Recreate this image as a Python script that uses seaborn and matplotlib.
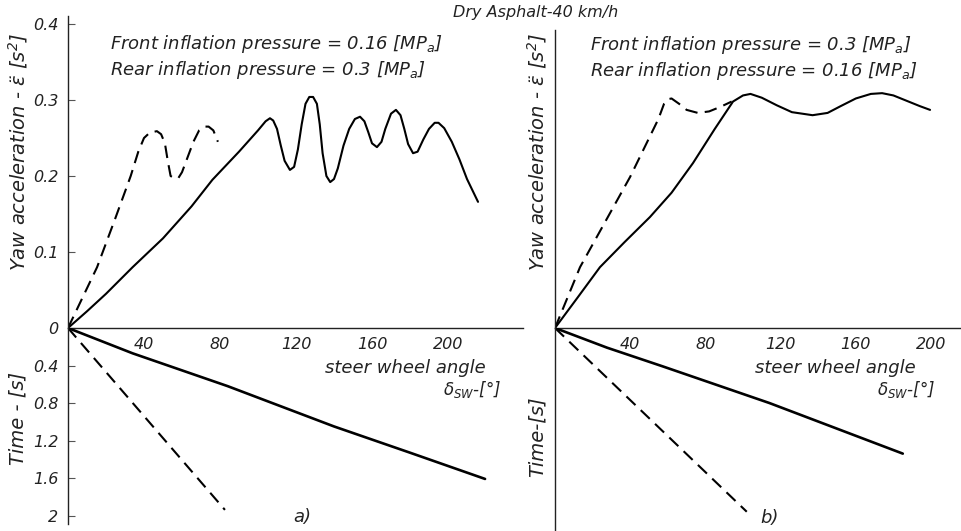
import matplotlib
matplotlib.use("Agg")
import matplotlib.pyplot as plt
import seaborn as sns
import numpy as np

sns.set_theme(style="white")
plt.rcParams['font.family'] = ['DejaVu Sans']
plt.rcParams['font.style'] = 'italic'
plt.rcParams['mathtext.fontset'] = 'dejavusans'

# ---------------- data ----------------
# panel a) yaw acceleration vs steer wheel angle
a_solid_x = [0, 10, 20, 34, 50, 65, 76, 90, 100, 104, 106.3, 108, 110, 112, 114, 116.8, 119, 121, 123, 125,
             127, 129, 131, 132.5, 134, 136, 138, 140, 142, 145, 148, 151, 153.7, 156, 158, 160, 162.6, 165,
             167, 170, 172.6, 175, 177, 179, 181.6, 184, 187, 190, 193, 195, 198, 202, 206, 210, 215.8]
a_solid_y = [0, 0.022, 0.045, 0.080, 0.118, 0.160, 0.195, 0.232, 0.260, 0.272, 0.276, 0.273, 0.262, 0.240,
             0.220, 0.208, 0.212, 0.235, 0.268, 0.295, 0.304, 0.304, 0.295, 0.268, 0.230, 0.200, 0.192, 0.196,
             0.210, 0.240, 0.262, 0.275, 0.278, 0.272, 0.258, 0.243, 0.238, 0.245, 0.262, 0.282, 0.287, 0.280,
             0.262, 0.242, 0.230, 0.232, 0.248, 0.262, 0.270, 0.270, 0.263, 0.245, 0.222, 0.196, 0.166]
a_dash_x = [0, 15.3, 25, 33, 37, 40, 43, 46.8, 49, 51, 52.5, 54, 56, 58, 60, 63, 66, 69, 72, 74, 76.5, 78.9]
a_dash_y = [0, 0.080, 0.145, 0.200, 0.232, 0.250, 0.257, 0.259, 0.255, 0.243, 0.220, 0.200, 0.197, 0.197,
            0.205, 0.225, 0.245, 0.260, 0.265, 0.265, 0.260, 0.245]
# panel a) time vs steer wheel angle
a_tsolid_x = [0, 34, 84, 140, 180, 219.5]
a_tsolid_t = [0, 0.27, 0.62, 1.05, 1.33, 1.61]
a_tdash_x = [0, 82.6]
a_tdash_t = [0, 1.94]

# panel b)
b_solid_x = [0, 12, 23.9, 37, 50.5, 62, 73.4, 85, 94.7, 100, 104, 110, 118, 126, 137, 145, 152, 160, 168,
             174, 180, 188, 194, 199.5]
b_solid_y = [0, 0.040, 0.080, 0.113, 0.146, 0.178, 0.217, 0.262, 0.298, 0.306, 0.308, 0.303, 0.293, 0.284,
             0.280, 0.283, 0.292, 0.302, 0.308, 0.309, 0.306, 0.298, 0.292, 0.287]
b_dash_x = [0, 13.3, 40, 55, 58, 60, 62, 66, 70, 76, 82, 88, 94]
b_dash_y = [0, 0.080, 0.199, 0.275, 0.295, 0.301, 0.302, 0.295, 0.287, 0.283, 0.285, 0.291, 0.298]
b_tsolid_x = [0, 27.7, 57.4, 114, 185]
b_tsolid_t = [0, 0.21, 0.41, 0.80, 1.34]
b_tdash_x = [0, 102]
b_tdash_t = [0, 1.96]

x_ticks = [40, 80, 120, 160, 200]
yaw_ticks = [0, 0.1, 0.2, 0.3, 0.4]
yaw_ticklabels = ["0", "0.1", "0.2", "0.3", "0.4"]
time_ticks = [0.4, 0.8, 1.2, 1.6, 2]
time_ticklabels = ["0.4", "0.8", "1.2", "1.6", "2"]

# ---------------- layout ----------------
W, H = 961, 531
fig = plt.figure(figsize=(W / 100, H / 100), dpi=100)
TXT = '#222222'
LW = 1.5


def px_axes(x0, x1, ytop, ybot):
    return fig.add_axes([x0 / W, 1 - ybot / H, (x1 - x0) / W, (ybot - ytop) / H])


def style_axes(ax, show_bottom):
    for s in ['top', 'right']:
        ax.spines[s].set_visible(False)
    ax.spines['bottom'].set_visible(show_bottom)
    for s in ['left', 'bottom']:
        ax.spines[s].set_color('#222222')
        ax.spines[s].set_linewidth(1.0)
    ax.set_facecolor('none')
    ax.grid(False)
    ax.set_xlabel('')
    ax.set_ylabel('')


def draw_panel(x0, x1, xmax, ytop_val, tmax, solid, dash, tsolid, tdash, show_ylabels):
    ybase = 328
    yscale = 760.0
    tscale = 93.75
    up = px_axes(x0, x1, ybase - ytop_val * yscale, ybase)
    lo = px_axes(x0, x1, ybase, ybase + tmax * tscale)
    sns.lineplot(x=solid[0], y=solid[1], ax=up, color='black', lw=LW, sort=False, estimator=None)
    sns.lineplot(x=dash[0], y=dash[1], ax=up, color='black', lw=LW, sort=False, estimator=None,
                 linestyle=(0, (6, 3.5)))
    sns.lineplot(x=tsolid[0], y=tsolid[1], ax=lo, color='black', lw=LW + 0.4, sort=False, estimator=None)
    sns.lineplot(x=tdash[0], y=tdash[1], ax=lo, color='black', lw=LW, sort=False, estimator=None,
                 linestyle=(0, (6, 3.5)))
    up.set_xlim(0, xmax)
    lo.set_xlim(0, xmax)
    up.set_ylim(0, ytop_val)
    lo.set_ylim(tmax, 0)
    style_axes(up, True)
    style_axes(lo, False)
    up.set_xticks(x_ticks)
    up.set_xticklabels([str(v) for v in x_ticks], color=TXT, fontsize=11.5, style='italic')
    up.tick_params(axis='x', direction='inout', length=5, width=0.8, pad=4, color='#555555')
    lo.set_xticks([])
    if show_ylabels:
        up.set_yticks(yaw_ticks)
        up.set_yticklabels(yaw_ticklabels, color=TXT, fontsize=11.5, style='italic')
        lo.set_yticks(time_ticks)
        lo.set_yticklabels(time_ticklabels, color=TXT, fontsize=11.5, style='italic')
        for a in (up, lo):
            a.tick_params(axis='y', direction='in', length=5, width=0.8, pad=7, left=True, color='#555555')
    else:
        up.set_yticks([])
        lo.set_yticks([])
    return up, lo


draw_panel(68, 523, (523 - 68) / 1.9, 0.41, 2.09,
           (a_solid_x, a_solid_y), (a_dash_x, a_dash_y),
           (a_tsolid_x, a_tsolid_t), (a_tdash_x, a_tdash_t), True)
draw_panel(555, 961, (961 - 555) / 1.88, 0.392, 2.17,
           (b_solid_x, b_solid_y), (b_dash_x, b_dash_y),
           (b_tsolid_x, b_tsolid_t), (b_tdash_x, b_tdash_t), False)


def ftext(x, y, s, size=12.5, ha='left', va='center', rot=0):
    fig.text(x / W, 1 - y / H, s, fontsize=size, ha=ha, va=va, rotation=rot, color=TXT, style='italic')


ftext(536, 12, "Dry Asphalt-40 km/h", size=11.5, ha='center')
ftext(110, 44, "Front inflation pressure = 0.16 [MP$_a$]", size=13)
ftext(110, 70, "Rear inflation pressure = 0.3 [MP$_a$]", size=13)
ftext(590, 45, "Front inflation pressure = 0.3 [MP$_a$]", size=13)
ftext(590, 71, "Rear inflation pressure = 0.16 [MP$_a$]", size=13)

ftext(18, 152, "Yaw acceleration - $\\ddot{\\varepsilon}$ [s$^2$]", size=14, ha='center', rot=90)
ftext(18, 418, "Time - [s]", size=14, ha='center', rot=90)
ftext(537, 152, "Yaw acceleration - $\\ddot{\\varepsilon}$ [s$^2$]", size=14, ha='center', rot=90)
ftext(537, 437, "Time-[s]", size=14, ha='center', rot=90)

ftext(325, 368, "steer wheel angle", size=13)
ftext(443, 389, "$\\delta_{SW}$-[°]", size=12)
ftext(755, 368, "steer wheel angle", size=13)
ftext(877, 389, "$\\delta_{SW}$-[°]", size=12)

ftext(302, 517, "a)", size=13, ha='center')
ftext(770, 518, "b)", size=13, ha='center')

fig.savefig("out.png", dpi=100)
